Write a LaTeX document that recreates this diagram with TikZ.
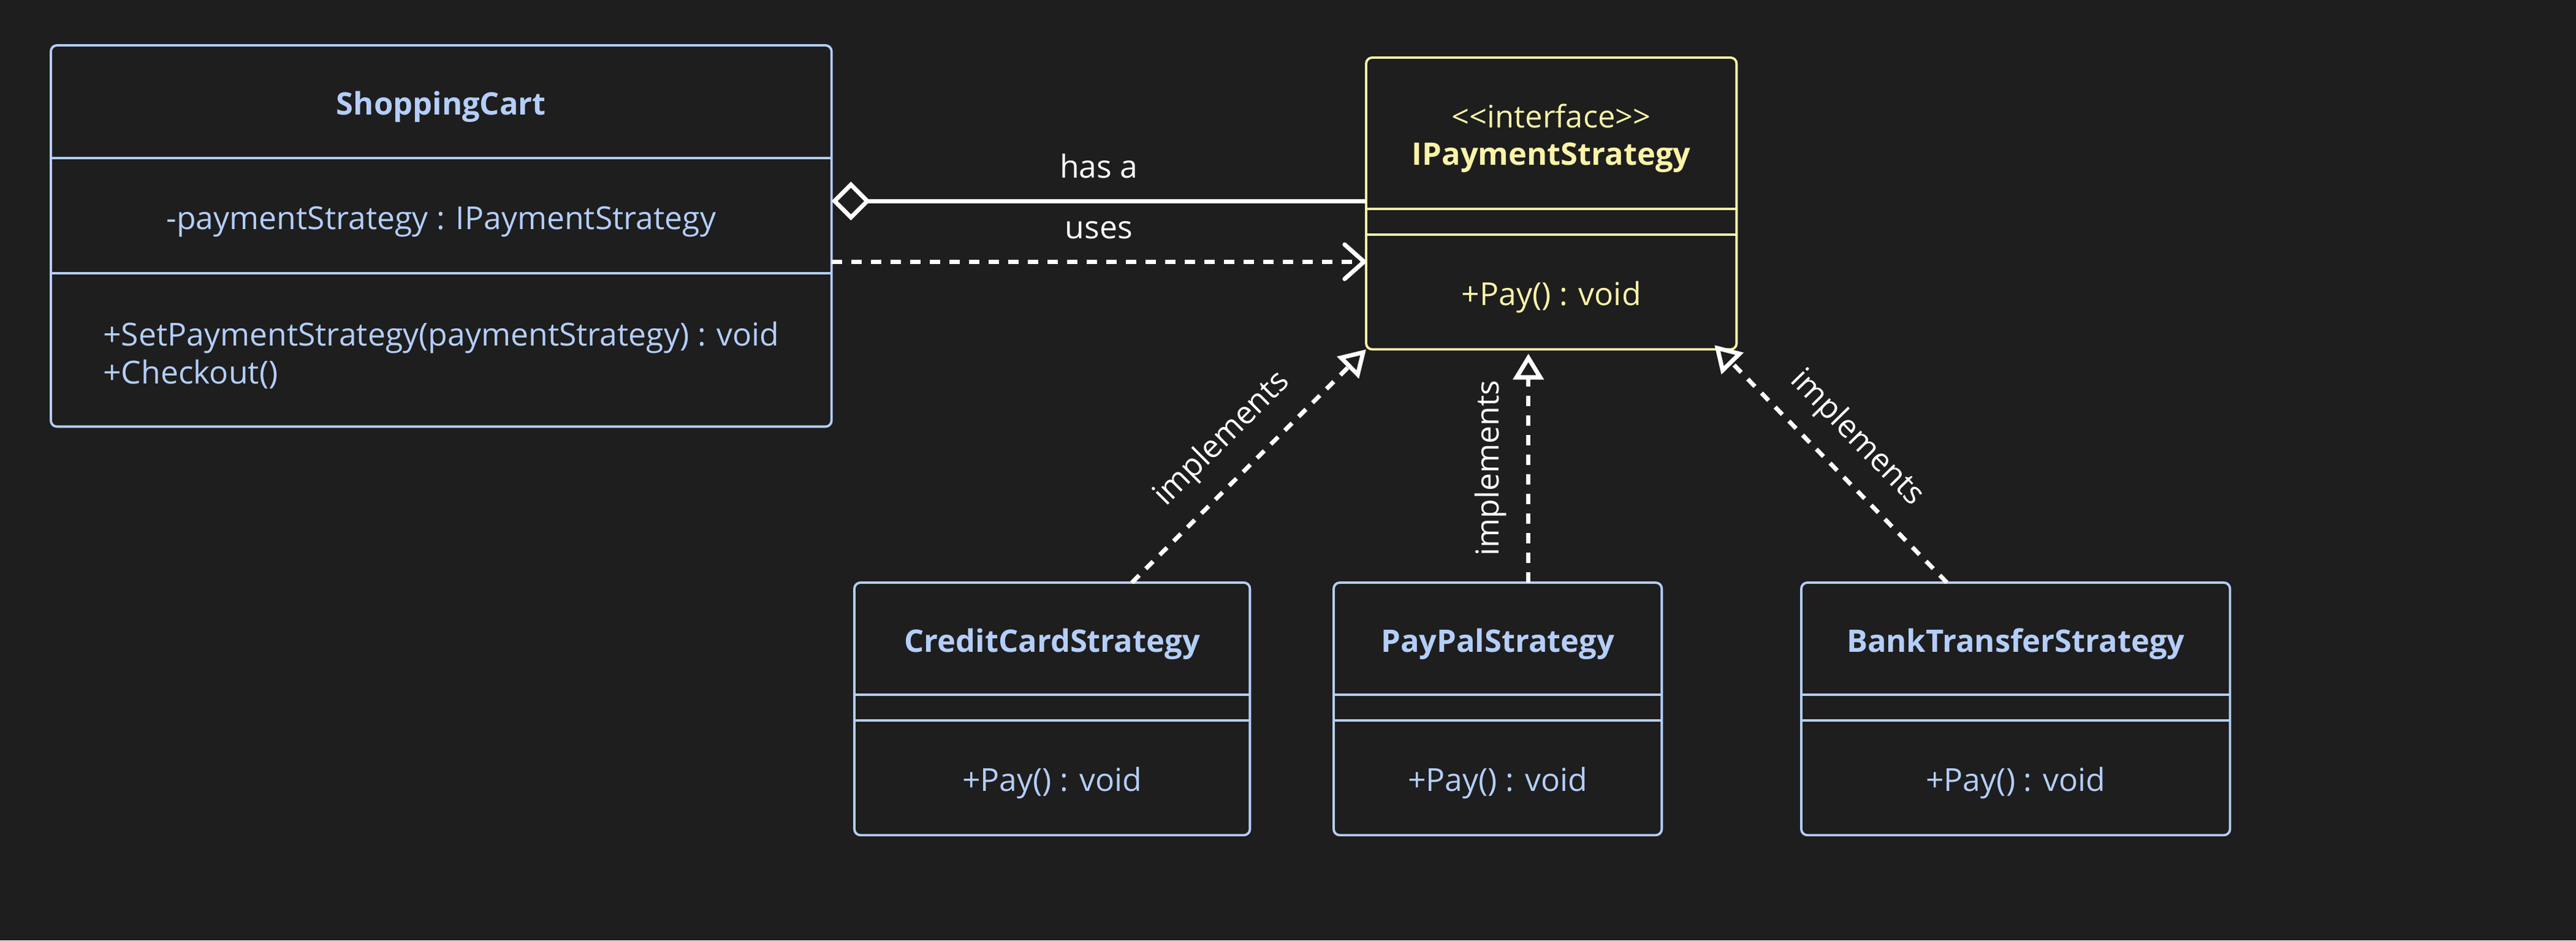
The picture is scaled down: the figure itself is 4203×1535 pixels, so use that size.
\documentclass[tikz,border=0pt]{standalone}
\usepackage{fontspec}
\setmainfont{Open Sans}
\usetikzlibrary{positioning,arrows.meta}

\definecolor{canvas}{HTML}{1E1E1E}
\definecolor{classblue}{HTML}{B4CEFA}
\definecolor{ifaceyellow}{HTML}{FAF3A8}

\newcommand{\lift}{\rule{0pt}{1.1em}}

\begin{document}
\begin{tikzpicture}[x=0.01cm, y=-0.01cm,
    gap/.style={rectangle, inner sep=0pt, outer sep=0pt, minimum height=0.42cm},
    part/.style={gap, text=classblue, font=\fontsize{14.7}{17.6}\selectfont},
    titlepart/.style={part, font=\fontsize{14.4}{17.4}\selectfont\bfseries},
    classbox/.style={line width=1.1pt, rounded corners=2.8pt},
    link/.style={draw=white, line width=2pt},
    dashlink/.style={link, dash pattern=on 4.8pt off 4.3pt},
    linklabel/.style={text=white, inner sep=0pt, font=\fontsize{14.7}{17}\selectfont},
    realizes/.style={dashlink, -{Triangle[open, length=12pt, width=14pt]}},
    ]
    \fill[canvas] (0,0) rectangle (4203,1535);

    %Nodes
    \node[titlepart, minimum width=12.73cm, minimum height=1.84cm, anchor=north west] (cart) at (83,74) {\lift ShoppingCart};
    \node[part, minimum width=12.73cm, minimum height=1.88cm, below=0pt of cart] (cartattr) {\lift -paymentStrategy : IPaymentStrategy};
    \node[part, minimum width=12.73cm, minimum height=2.5cm, below=0pt of cartattr, align=left] (cartops) {\lift +SetPaymentStrategy(paymentStrategy) : void\\+Checkout()};

    \node[titlepart, text=ifaceyellow, align=center, minimum width=6.04cm, minimum height=2.47cm, anchor=north west] (iface) at (2229,94) {\lift{\mdseries <{}<interface>{}>}\\IPaymentStrategy};
    \node[gap, minimum width=6.04cm, below=0pt of iface] (ifaceattr) {};
    \node[part, text=ifaceyellow, minimum width=6.04cm, minimum height=1.87cm, below=0pt of ifaceattr] (ifaceops) {\lift +Pay() : void};

    \node[titlepart, minimum width=6.45cm, minimum height=1.83cm, anchor=north west] (credit) at (1394,951) {\lift CreditCardStrategy};
    \node[gap, minimum width=6.45cm, below=0pt of credit] (creditattr) {};
    \node[part, minimum width=6.45cm, minimum height=1.87cm, below=0pt of creditattr] (creditops) {\lift +Pay() : void};

    \node[titlepart, minimum width=5.35cm, minimum height=1.83cm, anchor=north west] (paypal) at (2176,951) {\lift PayPalStrategy};
    \node[gap, minimum width=5.35cm, below=0pt of paypal] (paypalattr) {};
    \node[part, minimum width=5.35cm, minimum height=1.87cm, below=0pt of paypalattr] (paypalops) {\lift +Pay() : void};

    \node[titlepart, minimum width=6.99cm, minimum height=1.83cm, anchor=north west] (bank) at (2939,951) {\lift BankTransferStrategy};
    \node[gap, minimum width=6.99cm, below=0pt of bank] (bankattr) {};
    \node[part, minimum width=6.99cm, minimum height=1.87cm, below=0pt of bankattr] (bankops) {\lift +Pay() : void};

    %Boxes
    \foreach \c/\col in {cart/classblue, iface/ifaceyellow, credit/classblue, paypal/classblue, bank/classblue} {
        \draw[classbox, draw=\col] (\c.north west) rectangle (\c ops.south east);
        \draw[classbox, draw=\col] (\c.south west) -- (\c.south east);
        \draw[classbox, draw=\col] (\c attr.south west) -- (\c attr.south east);
    }

    %Lines
    \coordinate (hasa) at ([yshift=0.24cm]cartattr.east);
    \coordinate (uses) at ([yshift=-0.75cm]cartattr.east);
    \coordinate (paypaltop) at ([xshift=0.5cm]paypal.north);
    \draw[link, {Diamond[open, length=18pt, width=18pt]}-] (hasa) -- (hasa -| iface.west) node[midway, above=0.34cm, linklabel] {has a};
    \draw[dashlink, -{Straight Barb[length=9pt, width=16pt, round]}] (uses) -- (uses -| iface.west) node[midway, above=0.34cm, linklabel] {uses};

    \draw[realizes] ([xshift=1.3cm]credit.north) -- (ifaceops.south west) node[midway, sloped, above=0.32cm, linklabel] {implements};
    \draw[realizes] (paypaltop) -- ([yshift=-0.07cm]paypaltop |- ifaceops.south) node[midway, sloped, above=0.32cm, linklabel] {implements};
    \draw[realizes] ([xshift=-1.12cm]bank.north) -- ([xshift=-0.36cm, yshift=0.07cm]ifaceops.south east) node[midway, sloped, above=0.3cm, linklabel] {implements};
\end{tikzpicture}
\end{document}
